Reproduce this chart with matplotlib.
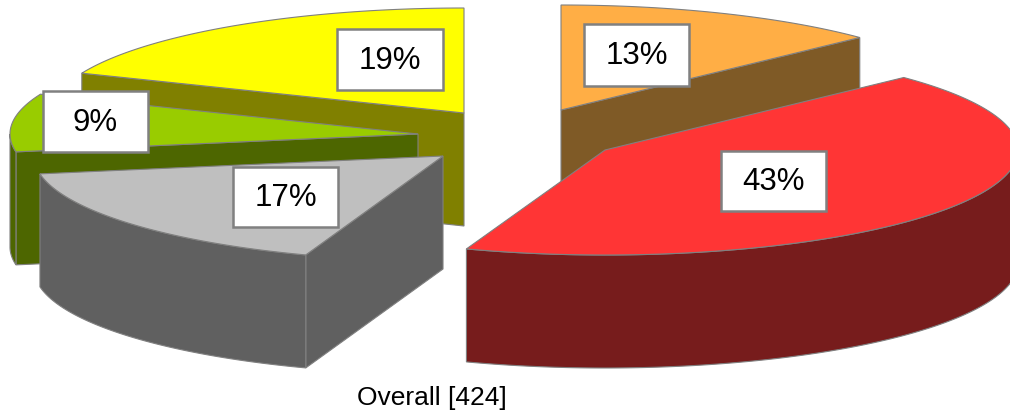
import numpy as np
import matplotlib
matplotlib.use('Agg')
import matplotlib.pyplot as plt
from matplotlib.patches import Polygon, Rectangle

plt.rcParams['font.family'] = ['Liberation Sans', 'DejaVu Sans']

# slices clockwise from 12 o'clock
values = [13, 43, 17, 9, 19]
labels = ['13%', '43%', '17%', '9%', '19%']
title = 'Overall [424]'

top_colors = ['#FFAE45', '#FF3535', '#BFBFBF', '#99CC00', '#FFFF00']
side_colors = ['#7F5A26', '#771C1C', '#606060', '#4D6600', '#808000']
# exploded apex of each slice in pixels
apexes = [(561, 110), (605, 150), (443, 156), (418, 134), (464, 113)]
radii_x = [413, 413, 409, 408, 413]
# white label boxes: x0, y0, x1, y1
boxes = [(584, 24, 689, 86), (721, 151, 826, 211), (233, 167, 338, 227),
         (43, 91, 148, 152), (337, 29, 443, 90)]
draw_order = [4, 3, 2, 0, 1]

RY = 105
DEPTH = 113
EDGE = '#808080'


def rim(apex, rx, a0, a1):
    t = np.radians(np.linspace(a0, a1, max(int(a1 - a0) * 2, 2)))
    return np.column_stack([apex[0] + rx * np.sin(t), apex[1] - RY * np.cos(t)])


def add_poly(ax, pts, color):
    ax.add_patch(Polygon(pts, closed=True, facecolor=color, edgecolor=EDGE, linewidth=0.8))


def wall(ax, p0, p1, color):
    add_poly(ax, [p0, p1, (p1[0], p1[1] + DEPTH), (p0[0], p0[1] + DEPTH)], color)


def draw_slice(ax, apex, rx, a0, a1, top, side):
    arc = rim(apex, rx, a0, a1)
    # only the walls that face the viewer
    if np.cos(np.radians(a0 - 90)) < -1e-6:
        wall(ax, apex, arc[0], side)
    if np.cos(np.radians(a1 + 90)) < -1e-6:
        wall(ax, apex, arc[-1], side)
    lo, hi = max(a0, 90), min(a1, 270)
    if lo < hi:
        front = rim(apex, rx, lo, hi)
        add_poly(ax, np.vstack([front, (front + [0, DEPTH])[::-1]]), side)
    add_poly(ax, np.vstack([[apex], arc]), top)


fig = plt.figure(figsize=(10.1, 4.12), dpi=100)
ax = fig.add_axes([0, 0, 1, 1])
ax.set_xlim(0, 1010)
ax.set_ylim(412, 0)
ax.axis('off')

edges = np.concatenate([[0], np.cumsum(values)]) / sum(values) * 360
for i in draw_order:
    draw_slice(ax, apexes[i], radii_x[i], edges[i], edges[i + 1], top_colors[i], side_colors[i])

for lab, (x0, y0, x1, y1) in zip(labels, boxes):
    ax.add_patch(Rectangle((x0, y0), x1 - x0, y1 - y0, facecolor='white', edgecolor=EDGE, linewidth=1.8, zorder=5))
    ax.text((x0 + x1) / 2, (y0 + y1) / 2 + 1, lab, fontsize=22.5, ha='center', va='center', color='black', zorder=6)

ax.text(432, 398, title, fontsize=19, ha='center', va='center', color='black')

fig.savefig('out.png', dpi=100)
